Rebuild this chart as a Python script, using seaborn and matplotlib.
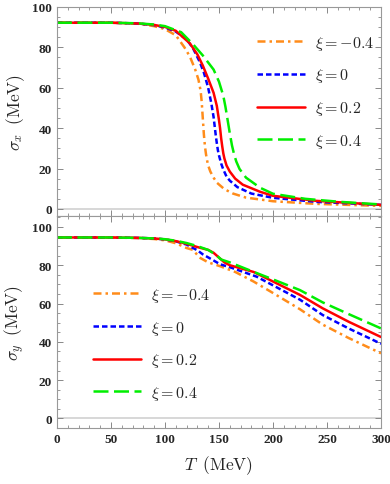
import matplotlib
matplotlib.use("Agg")
import matplotlib.pyplot as plt
from matplotlib.ticker import MultipleLocator
import seaborn as sns

sns.set_style("ticks")
plt.rcParams['mathtext.fontset'] = 'cm'
plt.rcParams['font.family'] = ['Liberation Serif', 'DejaVu Serif']
plt.rcParams['font.weight'] = 'bold'

# -----------------------------
# DATA
# -----------------------------

labels = [r"$\xi=-0.4$", r"$\xi=0$", r"$\xi=0.2$", r"$\xi=0.4$"]
colors = ["#ff8c1a", "#0000ff", "#ff0000", "#00ee00"]
styles = [(0, (3.2, 1.6, 1.0, 1.6)), (0, (2.2, 1.2)), "-", (0, (6, 2.2))]

# sigma_x (top panel)
tx_m04 = [0, 50, 75, 90, 100, 110, 118, 123, 128, 131, 133, 134, 135, 136, 137, 138, 139, 140, 142, 145, 148, 155, 163, 175, 200, 240, 300]
sx_m04 = [92.2, 92.2, 91.7, 90.5, 89.0, 86.0, 80.0, 75.5, 69.0, 64.0, 58.5, 53.0, 45.0, 37.0, 31.0, 27.0, 24.0, 21.5, 18.5, 15.5, 13.0, 9.8, 7.6, 5.6, 3.8, 2.5, 1.5]
tx_0 = [0, 50, 75, 90, 100, 110, 120, 126, 132, 136, 140, 143, 145, 146, 147, 148, 149, 150, 152, 154, 157, 160, 167, 180, 200, 240, 300]
sx_0 = [92.2, 92.2, 91.8, 91.0, 89.8, 87.8, 84.0, 79.5, 73.0, 67.5, 60.0, 52.0, 45.5, 41.0, 36.5, 32.5, 29.0, 26.5, 22.5, 19.5, 16.0, 14.0, 10.8, 7.6, 5.5, 3.5, 2.0]
tx_02 = [0, 50, 75, 90, 100, 110, 123, 130, 135, 140, 145, 148, 150, 151, 152, 153, 154, 155, 157, 160, 165, 172, 188, 200, 240, 300]
sx_02 = [92.2, 92.2, 91.8, 91.1, 90.1, 88.2, 82.0, 76.5, 71.0, 64.5, 57.5, 51.0, 44.0, 40.0, 35.0, 31.0, 27.5, 25.0, 21.5, 18.5, 15.0, 12.0, 8.5, 6.5, 4.0, 2.0]
tx_04 = [0, 50, 75, 90, 100, 115, 126, 135, 145, 150, 154, 156, 158, 160, 162, 164, 166, 169, 175, 188, 200, 230, 262, 300]
sx_04 = [92.2, 92.2, 91.9, 91.3, 90.5, 87.5, 81.5, 76.0, 69.0, 63.0, 56.0, 50.5, 44.0, 37.5, 31.5, 27.0, 23.5, 19.8, 15.5, 10.5, 7.5, 5.0, 3.5, 2.2]

# sigma_y (bottom panel)
ty_m04 = [0, 50, 75, 90, 100, 110, 120, 126, 132, 140, 151, 165, 182, 200, 225, 246, 270, 300]
sy_m04 = [94.5, 94.5, 94.2, 93.7, 93.0, 91.5, 89.0, 88.0, 84.0, 81.5, 79.5, 76.5, 71.5, 65.5, 57.0, 49.0, 42.0, 34.0]
ty_0 = [0, 50, 75, 90, 100, 110, 120, 130, 135, 145, 151, 160, 185, 200, 225, 246, 270, 300]
sy_0 = [94.5, 94.5, 94.3, 94.0, 93.5, 92.5, 90.8, 87.8, 85.7, 82.5, 80.5, 79.0, 74.0, 69.5, 62.0, 54.0, 47.0, 39.0]
ty_02 = [0, 50, 75, 90, 100, 110, 120, 130, 140, 145, 150, 155, 160, 182, 200, 225, 246, 270, 300]
sy_02 = [94.5, 94.5, 94.3, 94.0, 93.5, 92.6, 91.2, 89.5, 88.0, 86.5, 84.0, 81.5, 80.0, 76.5, 71.5, 64.5, 57.5, 50.5, 42.5]
ty_04 = [0, 50, 75, 90, 100, 110, 120, 130, 140, 147, 152, 160, 180, 200, 225, 246, 270, 300]
sy_04 = [94.5, 94.5, 94.3, 94.0, 93.6, 92.8, 91.6, 90.0, 88.0, 85.5, 83.0, 81.5, 77.0, 72.6, 67.0, 60.6, 54.5, 47.0]

top_T = [tx_m04, tx_0, tx_02, tx_04]
top_S = [sx_m04, sx_0, sx_02, sx_04]
bot_T = [ty_m04, ty_0, ty_02, ty_04]
bot_S = [sy_m04, sy_0, sy_02, sy_04]

# -----------------------------
# FIGURE
# -----------------------------

fig = plt.figure(figsize=(3.9, 4.85), dpi=100)
ax1 = fig.add_axes([0.146, 0.5526, 0.831, 0.431])
ax2 = fig.add_axes([0.146, 0.1155, 0.831, 0.437], sharex=ax1)

for ax, Ts, Ss in [(ax1, top_T, top_S), (ax2, bot_T, bot_S)]:
    ax.axhline(0, color="#d4d4d4", lw=1.3, zorder=0)
    for t, s, c, ls, lab in zip(Ts, Ss, colors, styles, labels):
        sns.lineplot(x=t, y=s, ax=ax, color=c, linestyle=ls, linewidth=1.8, label=lab)
    ax.set_xlim(0, 300)
    ax.xaxis.set_major_locator(MultipleLocator(50))
    ax.xaxis.set_minor_locator(MultipleLocator(10))
    ax.yaxis.set_major_locator(MultipleLocator(20))
    ax.yaxis.set_minor_locator(MultipleLocator(5))
    ax.tick_params(which="both", direction="in", top=True, right=True, color="#888888")
    ax.tick_params(which="major", length=4, width=0.7, labelsize=9.5)
    ax.tick_params(which="minor", length=2, width=0.6)
    for sp in ax.spines.values():
        sp.set_color("#999999")
        sp.set_linewidth(0.8)

ax1.set_ylim(-3.5, 100)
ax2.set_ylim(-5, 105.7)
ax1.tick_params(labelbottom=False)
ax1.set_xlabel("")

ax1.set_ylabel(r"$\sigma_x\;\;(\mathrm{MeV})$", fontsize=12.5, labelpad=4)
ax2.set_ylabel(r"$\sigma_y\;\;(\mathrm{MeV})$", fontsize=12.5, labelpad=4)
ax2.set_xlabel(r"$T\;\;(\mathrm{MeV})$", fontsize=12.5, labelpad=6)

leg_kw = dict(frameon=False, fontsize=11.5, handlelength=3.0, handletextpad=0.65,
              labelspacing=0.92, borderpad=0, borderaxespad=0, loc="upper left")
ax1.legend(bbox_to_anchor=(0.617, 0.872), **leg_kw)
ax2.legend(bbox_to_anchor=(0.111, 0.67), **leg_kw)

fig.savefig("out.png", dpi=100)
